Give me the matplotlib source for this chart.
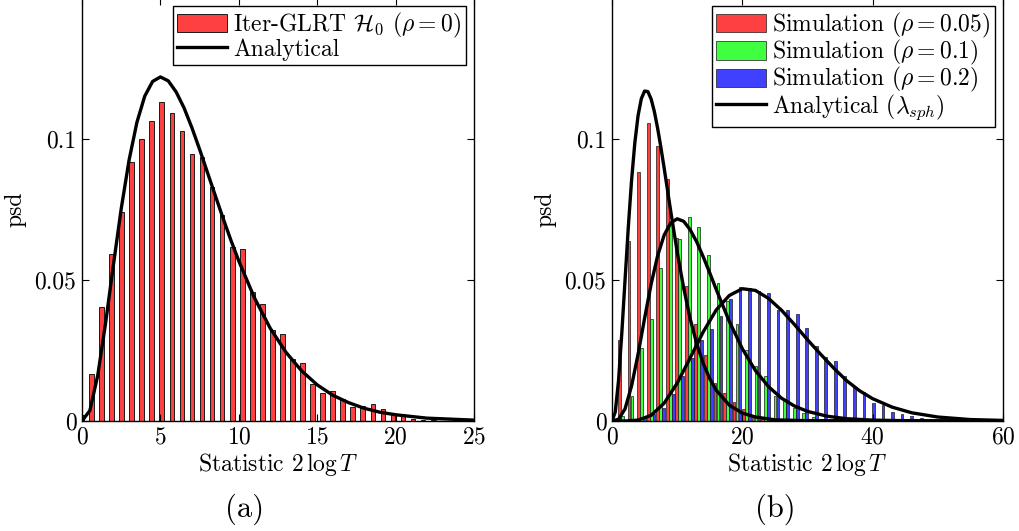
import numpy as np
import matplotlib
matplotlib.use("Agg")
import matplotlib.pyplot as plt

plt.rcParams['font.family'] = 'serif'
plt.rcParams['font.serif'] = ['cmr10']
plt.rcParams['mathtext.fontset'] = 'cm'
plt.rcParams['axes.formatter.use_mathtext'] = True

# ---- panel (a): histogram under H0 and analytical curve ----
a_bin_width = 0.641
a_first_center = -0.04
a_heights = [0.0021, 0.0167, 0.0403, 0.0591, 0.0742, 0.0917, 0.0999, 0.1064, 0.1130,
             0.1091, 0.1030, 0.0947, 0.0935, 0.0831, 0.0730, 0.0616, 0.0610, 0.0459,
             0.0414, 0.0323, 0.0309, 0.0221, 0.0207, 0.0131, 0.0100, 0.0108, 0.0077,
             0.0051, 0.0053, 0.0059, 0.0041, 0.0027, 0.0025, 0.0006, 0.0004, 0.0002]

a_curve_x = [0, 0.5, 1, 1.5, 2, 2.5, 3, 3.5, 4, 4.5, 5, 5.5, 6, 6.5, 7, 7.5, 8, 8.5,
             9, 9.5, 10, 11, 12, 13, 14, 15, 16, 17, 18, 19, 20, 22, 25]
a_curve_y = [0, 0.0037, 0.0161, 0.0346, 0.0553, 0.0753, 0.0925, 0.1059, 0.1152, 0.1204,
             0.1220, 0.1206, 0.1167, 0.1111, 0.1041, 0.0963, 0.0881, 0.0799, 0.0718,
             0.0640, 0.0567, 0.0436, 0.0329, 0.0244, 0.0178, 0.0128, 0.0091, 0.0065,
             0.0045, 0.0031, 0.0022, 0.0010, 0.0003]

# ---- panel (b): three simulations and analytical curves ----
b_bin_width = 1.4634
b_first_center = 0.15
b_red = [0, 0.0288, 0.0638, 0.0884, 0.1057, 0.0974, 0.0857, 0.0650, 0.0480, 0.0345,
         0.0235, 0.0136, 0.0098, 0.0066, 0.0042, 0.0015, 0.0008, 0.0003, 0, 0,
         0, 0, 0, 0, 0, 0, 0, 0, 0, 0, 0, 0, 0, 0, 0, 0]
b_green = [0.0005, 0.0019, 0.0089, 0.0260, 0.0362, 0.0543, 0.0697, 0.0644, 0.0725, 0.0689,
           0.0588, 0.0490, 0.0425, 0.0345, 0.0250, 0.0196, 0.0158, 0.0087, 0.0078, 0.0045,
           0.0027, 0.0015, 0.0008, 0.0004, 0.0002, 0, 0, 0, 0, 0, 0, 0, 0, 0, 0, 0]
b_blue = [0, 0, 0, 0.0010, 0.0024, 0.0046, 0.0095, 0.0158, 0.0223, 0.0288,
          0.0326, 0.0371, 0.0431, 0.0476, 0.0472, 0.0460, 0.0455, 0.0395, 0.0393, 0.0380,
          0.0330, 0.0267, 0.0227, 0.0211, 0.0158, 0.0120, 0.0104, 0.0065, 0.0057, 0.0033,
          0.0025, 0.0018, 0.0012, 0.0007, 0.0004, 0.0002]

red_curve_x = [0, 0.5, 1, 1.5, 2, 2.5, 3, 3.5, 4, 4.5, 5, 5.5, 6, 6.5, 7, 7.5, 8, 9,
               10, 11, 12, 13, 14, 15, 16, 18, 20, 22, 25, 30, 60]
red_curve_y = [0, 0.0032, 0.0143, 0.0310, 0.0500, 0.0687, 0.0853, 0.0986, 0.1083, 0.1143,
               0.1170, 0.1168, 0.1142, 0.1097, 0.1038, 0.0970, 0.0897, 0.0745, 0.0600,
               0.0471, 0.0362, 0.0274, 0.0204, 0.0150, 0.0109, 0.0056, 0.0028, 0.0014,
               0.0004, 0.0001, 0]
green_curve_x = [0, 1, 2, 3, 4, 5, 6, 7, 8, 9, 10, 11, 12, 13, 14, 15, 16, 18, 20, 22,
                 24, 26, 28, 30, 33, 36, 40, 45, 50, 60]
green_curve_y = [0, 0.0006, 0.0043, 0.0124, 0.0237, 0.0364, 0.0485, 0.0586, 0.0659, 0.0702,
                 0.0717, 0.0708, 0.0678, 0.0635, 0.0582, 0.0525, 0.0466, 0.0353, 0.0256,
                 0.0179, 0.0122, 0.0081, 0.0053, 0.0034, 0.0017, 0.0008, 0.0003, 0.0001,
                 0, 0]
blue_curve_x = [0, 2, 4, 6, 8, 10, 12, 14, 16, 18, 20, 22, 24, 26, 28, 30, 32, 34, 36,
                38, 40, 43, 46, 50, 55, 60]
blue_curve_y = [0, 0.0000, 0.0003, 0.0020, 0.0063, 0.0134, 0.0224, 0.0316, 0.0394, 0.0445,
                0.0469, 0.0463, 0.0435, 0.0393, 0.0342, 0.0288, 0.0237, 0.0188, 0.0143,
                0.0107, 0.0079, 0.0049, 0.0029, 0.0014, 0.0005, 0.0002]

red = '#ff4040'
green = '#40ff40'
blue = '#4040ff'
edge = '#1a1a1a'
fs = 17

fig = plt.figure(figsize=(10.19, 5.31), dpi=100)
ax1 = fig.add_axes([0.0805, 0.2072, 0.3847, 0.7966])
ax2 = fig.add_axes([0.6006, 0.2072, 0.3837, 0.7966])

# (a)
xa = a_first_center + a_bin_width * np.arange(len(a_heights))
h_bar = ax1.bar(xa, a_heights, width=0.3, color=red, edgecolor=edge, linewidth=0.7,
                label=r'Iter-GLRT $\mathcal{H}_0$ $(\rho = 0)$')
h_line, = ax1.plot(a_curve_x, a_curve_y, color='k', lw=2.4, label='Analytical')
ax1.set_xlim(0, 25)
ax1.set_ylim(0, 0.15)
ax1.set_xticks([0, 5, 10, 15, 20, 25])
ax1.set_yticks([0, 0.05, 0.1])
ax1.set_yticklabels(['0', '0.05', '0.1'])
handles1 = [h_bar, h_line]

# (b)
xb = b_first_center + b_bin_width * np.arange(len(b_red))
hr = ax2.bar(xb - 0.46, b_red, width=0.42, color=red, edgecolor=edge, linewidth=0.5,
             label=r'Simulation $(\rho = 0.05)$')
hg = ax2.bar(xb, b_green, width=0.42, color=green, edgecolor=edge, linewidth=0.5,
             label=r'Simulation $(\rho = 0.1)$')
hb = ax2.bar(xb + 0.46, b_blue, width=0.42, color=blue, edgecolor=edge, linewidth=0.5,
             label=r'Simulation $(\rho = 0.2)$')
hl, = ax2.plot(red_curve_x, red_curve_y, color='k', lw=2.4, label=r'Analytical $(\lambda_{sph})$')
ax2.plot(green_curve_x, green_curve_y, color='k', lw=2.4)
ax2.plot(blue_curve_x, blue_curve_y, color='k', lw=2.4)
ax2.set_xlim(0, 60)
ax2.set_ylim(0, 0.15)
ax2.set_xticks([0, 20, 40, 60])
ax2.set_yticks([0, 0.05, 0.1])
ax2.set_yticklabels(['0', '0.05', '0.1'])
handles2 = [hr, hg, hb, hl]

for ax, hs in ((ax1, handles1), (ax2, handles2)):
    ax.tick_params(direction='in', top=True, right=True, length=5, width=0.8,
                   labelsize=fs, pad=4)
    for s in ax.spines.values():
        s.set_linewidth(1.0)
    ax.set_xlabel(r'Statistic $2\,\log T$', fontsize=fs, labelpad=2)
    ax.set_ylabel('psd', fontsize=fs, labelpad=6)
    leg = ax.legend(handles=hs, loc='upper right', fontsize=fs, frameon=True, fancybox=False,
                    edgecolor='k', framealpha=1, borderaxespad=0.35, borderpad=0.2,
                    labelspacing=-0.08, handlelength=2.1, handleheight=0.8,
                    handletextpad=0.25)
    leg.get_frame().set_linewidth(1.0)

fig.text(245 / 1019, 0.04, '(a)', fontsize=22, ha='center', va='center')
fig.text(775 / 1019, 0.04, '(b)', fontsize=22, ha='center', va='center')

fig.savefig('out.png', dpi=100)
